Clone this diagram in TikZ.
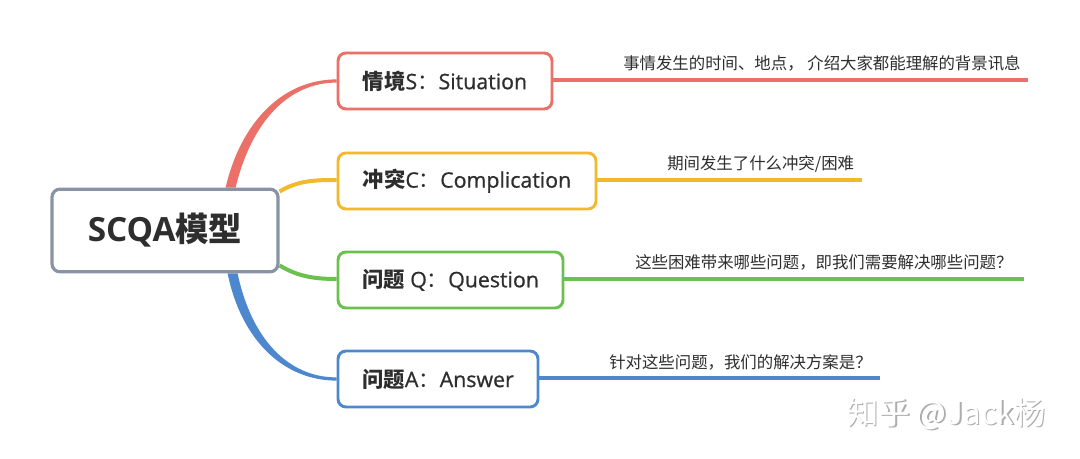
\documentclass[tikz,border=0pt]{standalone}
\usepackage{fontspec}
\setmainfont{Open Sans}
\newfontfamily\latmed{Open Sans}[FakeBold=0.8]
\newfontfamily\cjk{Noto Sans CJK SC}
\usetikzlibrary{calc}
\definecolor{cS}{HTML}{EB7067}
\definecolor{cC}{HTML}{F2B92B}
\definecolor{cQ}{HTML}{6CC04F}
\definecolor{cA}{HTML}{4D88CF}
\definecolor{cR}{HTML}{8A93A4}
\definecolor{txt}{HTML}{2E2E2E}
\begin{document}
\begin{tikzpicture}[x=0.75pt,y=-0.75pt,
  box/.style={draw, line width=2.2pt, rounded corners=6pt, fill=white,
    minimum height=42pt, inner sep=0pt, text=txt,
    font=\latmed\fontsize{16}{19}\selectfont},
  rootbox/.style={box, draw=cR, line width=2.4pt, minimum width=169.5pt, minimum height=62pt,
    font=\fontsize{25}{29}\selectfont\bfseries},
  desc/.style={anchor=base west, inner sep=0pt, text=txt,
    font=\cjk\fontsize{12.3}{15}\selectfont},
  wmark/.style={anchor=base west, inner sep=0pt, font=\cjk\fontsize{23.5}{27}\selectfont},
  uline/.style={line width=2.4pt},
  branch/.style={line width=3pt}]
\useasboundingbox (0,0) rectangle (1080,459);
\fill[white] (0,0) rectangle (1080,459);

% node positions (first pass, for anchors)
\path (165,230.5) node[rootbox, draw=none, fill=none, text opacity=0] (root) {SCQA{\cjk\bfseries 模型}};
\path (445,81)  node[box, minimum width=160.5pt, draw=none, fill=none, text opacity=0] (S) {};
\path (467,181) node[box, minimum width=193.5pt, draw=none, fill=none, text opacity=0] (C) {};
\path (450.5,280) node[box, minimum width=168.75pt, draw=none, fill=none, text opacity=0] (Q) {};
\path (438,379) node[box, minimum width=150pt, draw=none, fill=none, text opacity=0] (A) {};

% branch anchors
\coordinate (rs) at ($(root.north east)+(-49,0)$);
\coordinate (ra) at ($(root.south east)+(-47,0)$);
\coordinate (rc) at ($(root.north east)+(0,4)$);
\coordinate (rq) at ($(root.south east)+(0,-8)$);

% tapered main branches
\fill[cS] ($(rs)+(-5,0)$) .. controls +(16,-68) and +(-52,0) .. ($(S.west)+(0,-1.6)$)
  -- ($(S.west)+(0,1.6)$) .. controls +(-48,0) and +(16,-66) .. ($(rs)+(5,0)$) -- cycle;
\fill[cA] ($(ra)+(-5,0)$) .. controls +(14,68) and +(-52,0) .. ($(A.west)+(0,1.6)$)
  -- ($(A.west)+(0,-1.6)$) .. controls +(-48,0) and +(14,66) .. ($(ra)+(5,0)$) -- cycle;
\draw[cC, branch] (rc) .. controls +(18,-11) and +(-22,0) .. ($(C.west)+(0,-1)$);
\draw[cQ, branch] (rq) .. controls +(18,11) and +(-22,0) .. ($(Q.west)+(0,-1)$);

% visible boxes
\node[rootbox] at (root) {SCQA{\cjk\bfseries 模型}};
\node[box, draw=cS, minimum width=160.5pt] at (S) {{\cjk\bfseries 情境}S{\cjk ：}Situation};
\node[box, draw=cC, minimum width=193.5pt] at (C) {{\cjk\bfseries 冲突}C{\cjk ：}Complication};
\node[box, draw=cQ, minimum width=168.75pt] at (Q) {{\cjk\bfseries 问题} Q{\cjk ：}Question};
\node[box, draw=cA, minimum width=150pt] at (A) {{\cjk\bfseries 问题}A{\cjk ：}Answer};

% description lines
\coordinate (sE) at (1028,80);
\coordinate (cE) at (862,180);
\coordinate (qE) at (1024,279);
\coordinate (aE) at (880,378);
\draw[cS, uline] ($(S.east)+(0,-1)$) -- (sE);
\draw[cC, uline] ($(C.east)+(0,-1)$) -- (cE);
\draw[cQ, uline] ($(Q.east)+(0,-1)$) -- (qE);
\draw[cA, uline] ($(A.east)+(0,-1)$) -- (aE);

\node[desc] (sD) at (623,70) {事情发生的时间、地点， 介绍大家都能理解的背景讯息};
\node[desc] (cD) at (667,170) {期间发生了什么冲突/困难};
\node[desc] (qD) at (635,269) {这些困难带来哪些问题，即我们需要解决哪些问题？};
\node[desc] (aD) at (609,368) {针对这些问题，我们的解决方案是？};

% watermark
\node[wmark, text=black!32] (wms) at (848.5,425.5) {知乎 @Jack杨};
\node[wmark, text=white] (wm) at (847,424) {知乎 @Jack杨};
\end{tikzpicture}
\end{document}
